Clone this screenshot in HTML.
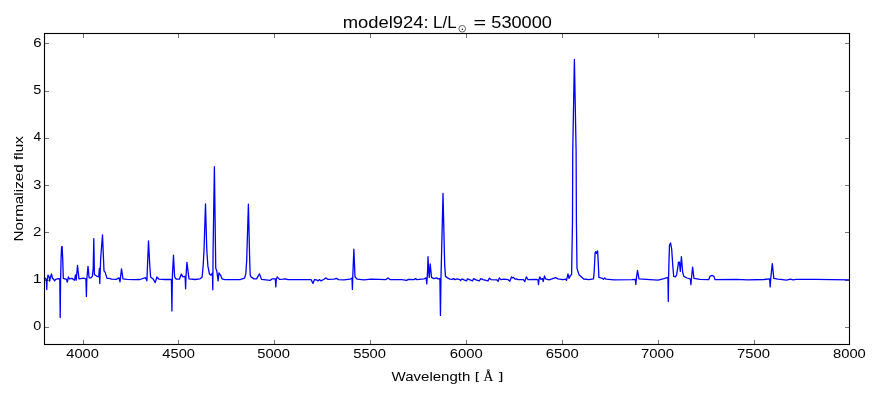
<!DOCTYPE html>
<html><head><meta charset="utf-8"><style>
html,body{margin:0;padding:0;background:#fff;}
svg{display:block;font-family:"Liberation Sans",sans-serif;will-change:transform;}
</style></head><body>
<svg width="880" height="400" viewBox="0 0 880 400">
<rect width="880" height="400" fill="#fff"/>
<polyline fill="none" stroke="#0000ff" stroke-width="1.3" stroke-linejoin="round" points="45.1,277.7 46,279.4 46.4,280.4 46.75,289.6 47.1,280.4 48,275.2 49,276.65 49.7,281.2 50.4,277.7 51.45,273.85 52.5,278.4 53.5,279.1 54.6,280.8 55.6,279.4 58.25,278.6 59.8,278.9 60.2,317.6 60.6,278.4 61.1,258.4 61.6,246.9 62.1,246.4 62.7,258.4 63.3,278.4 64.3,278.6 66.5,279.4 67.3,282.2 68.4,277 69.5,278.9 72,278.4 74.5,280.2 75.5,274.9 76.2,280.2 77.5,265.4 79,278.9 83.6,278.1 85.9,278.9 86.4,296.6 86.8,279.4 88,266.3 89.1,277.8 91,277.8 92.4,276.15 93.2,268.4 93.8,238.6 94.4,274.4 96.5,276.1 98.7,276.9 99.4,268.4 99.8,283.6 100.7,258.1 102.5,234.9 104,270.9 105.2,272.4 107,278.4 109.2,278.4 111.5,279.1 116,279.4 119,277.9 120,281.9 121.5,268.9 123,278.9 127,279.4 134,279.7 140,279.5 145.6,277.65 146.9,280.8 147.5,265.4 148.5,240.8 149.75,265.4 150.6,277 153.1,278.9 155.25,282.65 156.9,277 159,279.2 165,279.5 171.4,279.5 171.9,310.9 172.4,275.4 173.5,255.2 174.6,276.8 176.2,279.2 179.4,279.2 181.3,274.1 182.9,276.8 185.1,276.4 185.6,288.8 186,276.4 186.9,262.4 189,278.9 195,279.5 200,278.8 202.1,277.2 203.15,266.15 204,250.4 205.5,204 206.8,250.4 207.9,266.15 209.45,274 211,275.1 212.4,273 212.8,289.8 213.1,250.4 214.4,166.6 215.5,250.4 215.75,268.3 216.8,270.9 218.1,280.9 218.9,273 220.5,275.1 222.05,278.8 225,279.6 240,279.6 244.5,278.2 245.8,273.9 246.7,260.4 248.4,204.2 249.7,260.4 250.2,274.9 251,276.9 254,278.9 256.5,278.9 259.5,273.9 261.5,279.4 266,279.9 270,280.4 272,278.9 275.3,278.9 275.8,286.9 276.3,279.4 277.2,276.9 279.5,279.4 283,279.2 285.5,278.9 288,279.6 311,279.6 313,283.4 314.5,279.6 316.5,279.9 318,280.9 319.5,279.6 321,280.9 324,279.2 326,277.9 328,279.4 334,279.2 336.5,278.4 338.5,279.6 344,279.8 350,279.2 352,278 352.4,289.4 352.8,276.4 353.85,249.2 355,276.8 357.2,279.2 364,279.8 371,279.2 386,279.6 388,277.9 390,279.6 402,279.6 406.5,280.4 408.5,279.4 414,279.6 415.5,278.6 417,279.6 424,278.9 426.2,277.9 426.8,283.9 427.6,270.4 428,256.6 428.6,270.4 429.2,277.4 430.2,263.9 431.5,277.4 434,278.6 436.5,277.9 438,278.9 439.9,278.6 440.45,315.4 440.95,278.4 441.3,265.4 443,193.4 444.7,265.4 445.5,276.4 448,278.2 450,279.2 452,279.4 453.5,278.6 455,279.6 457,278.9 460,279.6 460.5,280.6 462,278.9 464,279.9 466.5,280.9 467.5,278.9 470,279.9 472.5,280.9 473.5,278.7 476,279.9 479.3,280.9 480.8,278.6 483,279.6 488,280.9 489.3,278.2 491,279.6 497,279.9 498,281.4 499.3,277.9 501,279.6 504,279.2 508,279.6 509.8,281.2 511.5,276.9 512.5,277.9 513.5,277.4 515,279.2 516.5,278.9 518,279.6 523.5,279.6 524.8,281.6 526.3,276.9 528,279.6 536,279.4 538,279.9 538.5,284.6 539,279.4 539.8,276.9 541,279.4 542.5,278.6 543.2,281.6 544.5,275.9 545.5,278.9 549,279.9 552,278.9 555.5,277.6 558,278.9 563,279.6 565.5,279.2 566.5,280.4 568,273.9 569,278.4 570.5,275.4 571.6,274.4 572.5,220.4 572.75,150.4 574.4,59.4 576.1,150.4 576.4,220.4 577,268.4 579,274.7 583.7,279 589,279.6 593.5,278.9 594.2,271.4 595.1,252.9 595.8,251.6 596.6,253.4 597.6,250.9 598.2,261.4 598.9,277.4 602.5,278.4 603.5,279.4 604.7,277.9 606,279.2 614,279.9 632,279.6 635.3,279.4 635.8,284.4 636.3,279.4 637.5,270.4 639,278.9 650,279.6 658,280.2 664,278.6 667.9,277.4 668.3,301.6 668.6,278.4 669,260.4 669.5,245 670.6,243 671.7,249.4 672.8,265.9 673.7,276.4 675.5,276.9 676.65,274.7 677.75,267.55 678.5,262.05 679.4,262.05 680.3,271.4 681.4,256.55 682.7,272.5 683.8,276.4 687.1,278 690.4,279.2 690.9,284.6 691.4,278.9 692.6,267.2 694,278.4 700,279.4 708.75,279.7 709.9,276.4 711.9,275.4 713.9,276.4 715.1,279.7 736.2,279.3 747.7,279.8 764,279.5 769.6,278.9 770.2,286.9 770.7,278.9 772.3,263.6 773.8,278.4 778,279.2 786.5,280.2 790.5,279.2 793,279.9 796.5,279.4 815,279.4 849,279.9"/>
<rect x="44.5" y="33.5" width="805" height="311" fill="none" stroke="#000" stroke-width="1.11"/>
<g stroke="#000" stroke-width="0.55">
<line x1="83.5" y1="344" x2="83.5" y2="340"/>
<line x1="83.5" y1="34" x2="83.5" y2="38"/>
<line x1="178.5" y1="344" x2="178.5" y2="340"/>
<line x1="178.5" y1="34" x2="178.5" y2="38"/>
<line x1="274.5" y1="344" x2="274.5" y2="340"/>
<line x1="274.5" y1="34" x2="274.5" y2="38"/>
<line x1="370.5" y1="344" x2="370.5" y2="340"/>
<line x1="370.5" y1="34" x2="370.5" y2="38"/>
<line x1="466.5" y1="344" x2="466.5" y2="340"/>
<line x1="466.5" y1="34" x2="466.5" y2="38"/>
<line x1="562.5" y1="344" x2="562.5" y2="340"/>
<line x1="562.5" y1="34" x2="562.5" y2="38"/>
<line x1="658.5" y1="344" x2="658.5" y2="340"/>
<line x1="658.5" y1="34" x2="658.5" y2="38"/>
<line x1="754.5" y1="344" x2="754.5" y2="340"/>
<line x1="754.5" y1="34" x2="754.5" y2="38"/>
<line x1="849.5" y1="344" x2="849.5" y2="340"/>
<line x1="849.5" y1="34" x2="849.5" y2="38"/>
<line x1="45" y1="327.5" x2="49" y2="327.5"/>
<line x1="849" y1="327.5" x2="845" y2="327.5"/>
<line x1="45" y1="280.5" x2="49" y2="280.5"/>
<line x1="849" y1="280.5" x2="845" y2="280.5"/>
<line x1="45" y1="232.5" x2="49" y2="232.5"/>
<line x1="849" y1="232.5" x2="845" y2="232.5"/>
<line x1="45" y1="185.5" x2="49" y2="185.5"/>
<line x1="849" y1="185.5" x2="845" y2="185.5"/>
<line x1="45" y1="138.5" x2="49" y2="138.5"/>
<line x1="849" y1="138.5" x2="845" y2="138.5"/>
<line x1="45" y1="91.5" x2="49" y2="91.5"/>
<line x1="849" y1="91.5" x2="845" y2="91.5"/>
<line x1="45" y1="43.5" x2="49" y2="43.5"/>
<line x1="849" y1="43.5" x2="845" y2="43.5"/>
</g>
<g fill="#000">
<text x="66.26" y="357.8" font-size="12.9" textLength="32.56" lengthAdjust="spacingAndGlyphs">4000</text>
<text x="162.36" y="357.8" font-size="12.9" textLength="32.56" lengthAdjust="spacingAndGlyphs">4500</text>
<text x="257.23" y="357.8" font-size="12.9" textLength="32.8" lengthAdjust="spacingAndGlyphs">5000</text>
<text x="353.23" y="357.8" font-size="12.9" textLength="32.8" lengthAdjust="spacingAndGlyphs">5500</text>
<text x="449.85" y="357.8" font-size="12.9" textLength="32.98" lengthAdjust="spacingAndGlyphs">6000</text>
<text x="545.85" y="357.8" font-size="12.9" textLength="32.98" lengthAdjust="spacingAndGlyphs">6500</text>
<text x="641.05" y="357.8" font-size="12.9" textLength="32.98" lengthAdjust="spacingAndGlyphs">7000</text>
<text x="737.05" y="357.8" font-size="12.9" textLength="32.98" lengthAdjust="spacingAndGlyphs">7500</text>
<text x="832.97" y="357.8" font-size="12.9" textLength="32.86" lengthAdjust="spacingAndGlyphs">8000</text>
<text x="33.34" y="329.65" font-size="12.9" textLength="8.05" lengthAdjust="spacingAndGlyphs">0</text>
<text x="32.66" y="282.9" font-size="12.9" textLength="8.92" lengthAdjust="spacingAndGlyphs">1</text>
<text x="33.14" y="235.65" font-size="12.9" textLength="8.39" lengthAdjust="spacingAndGlyphs">2</text>
<text x="33.33" y="188.8" font-size="12.9" textLength="8.12" lengthAdjust="spacingAndGlyphs">3</text>
<text x="33.58" y="140.65" font-size="12.9" textLength="7.62" lengthAdjust="spacingAndGlyphs">4</text>
<text x="33.34" y="93.65" font-size="12.9" textLength="8.05" lengthAdjust="spacingAndGlyphs">5</text>
<text x="33.15" y="46.8" font-size="12.9" textLength="8.32" lengthAdjust="spacingAndGlyphs">6</text>
<text x="342.78" y="27.9" font-size="16.6" textLength="85.9" lengthAdjust="spacingAndGlyphs">model924:</text>
<text x="433.13" y="27.9" font-size="16.6" textLength="23.4" lengthAdjust="spacingAndGlyphs">L/L</text>
<text x="473.46" y="27.9" font-size="16.6" textLength="12.57" lengthAdjust="spacingAndGlyphs">=</text>
<text x="491.29" y="27.9" font-size="16.6" textLength="60.67" lengthAdjust="spacingAndGlyphs">530000</text>
<text x="391.54" y="380.8" font-size="13.1" textLength="78.83" lengthAdjust="spacingAndGlyphs">Wavelength</text>
<text x="474.72" y="379.5" font-size="11.6" textLength="4.48" lengthAdjust="spacingAndGlyphs">[</text>
<text x="498.85" y="379.5" font-size="11.6" textLength="4.76" lengthAdjust="spacingAndGlyphs">]</text>
<text transform="translate(22.6,240.2) rotate(-90)" x="-1.28" y="0" font-size="13.1" textLength="105.23" lengthAdjust="spacingAndGlyphs">Normalized flux</text>
</g>
<g transform="translate(462.25,28.75)"><circle cx="0" cy="0" r="3.3" fill="none" stroke="#000" stroke-width="0.6"/><circle cx="0.1" cy="0.4" r="0.75" fill="#000"/></g>
<g font-family="Liberation Serif" fill="#000"><text x="483.6" y="380.8" font-size="13.8" textLength="9.8" lengthAdjust="spacingAndGlyphs" stroke="#000" stroke-width="0.12">Å</text></g>
</svg>
</body></html>
